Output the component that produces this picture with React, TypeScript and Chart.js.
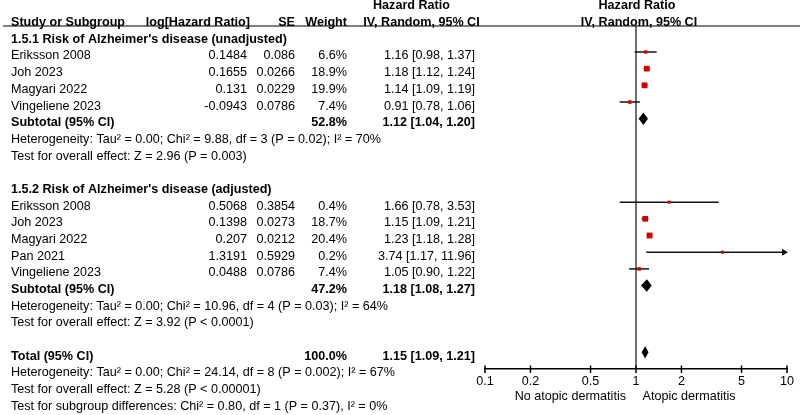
import React, { useEffect, useRef } from 'react';
import { Chart, registerables } from 'chart.js';

Chart.register(...registerables);

const FONT = '"Liberation Sans", Arial, Helvetica, sans-serif';

// ---- Subgroup 1.5.1 : unadjusted ----
const g1Title = "1.5.1 Risk of Alzheimer's disease (unadjusted)";
const g1Studies = ['Eriksson 2008', 'Joh 2023', 'Magyari 2022', 'Vingeliene 2023'];
const g1LogHR = [0.1484, 0.1655, 0.131, -0.0943];
const g1SE = [0.086, 0.0266, 0.0229, 0.0786];
const g1Weight = [6.6, 18.9, 19.9, 7.4];
const g1HR = [1.16, 1.18, 1.14, 0.91];
const g1Low = [0.98, 1.12, 1.09, 0.78];
const g1High = [1.37, 1.24, 1.19, 1.06];
const g1Sub = [1.12, 1.04, 1.2];
const g1SubWeight = 52.8;
const g1Het = 'Heterogeneity: Tau² = 0.00; Chi² = 9.88, df = 3 (P = 0.02); I² = 70%';
const g1Test = 'Test for overall effect: Z = 2.96 (P = 0.003)';

// ---- Subgroup 1.5.2 : adjusted ----
const g2Title = "1.5.2 Risk of Alzheimer's disease (adjusted)";
const g2Studies = ['Eriksson 2008', 'Joh 2023', 'Magyari 2022', 'Pan 2021', 'Vingeliene 2023'];
const g2LogHR = [0.5068, 0.1398, 0.207, 1.3191, 0.0488];
const g2SE = [0.3854, 0.0273, 0.0212, 0.5929, 0.0786];
const g2Weight = [0.4, 18.7, 20.4, 0.2, 7.4];
const g2HR = [1.66, 1.15, 1.23, 3.74, 1.05];
const g2Low = [0.78, 1.09, 1.18, 1.17, 0.9];
const g2High = [3.53, 1.21, 1.28, 11.96, 1.22];
const g2Sub = [1.18, 1.08, 1.27];
const g2SubWeight = 47.2;
const g2Het = 'Heterogeneity: Tau² = 0.00; Chi² = 10.96, df = 4 (P = 0.03); I² = 64%';
const g2Test = 'Test for overall effect: Z = 3.92 (P < 0.0001)';

// ---- Total ----
const totalHR = [1.15, 1.09, 1.21];
const totalWeight = 100.0;
const totalHet = 'Heterogeneity: Tau² = 0.00; Chi² = 24.14, df = 8 (P = 0.002); I² = 67%';
const totalTest = 'Test for overall effect: Z = 5.28 (P < 0.00001)';
const subgroupTest = 'Test for subgroup differences: Chi² = 0.80, df = 1 (P = 0.37), I² = 0%';

// ---- Axis ----
const xTicks = [0.1, 0.2, 0.5, 1, 2, 5, 10];
const favoursLeft = 'No atopic dermatitis';
const favoursRight = 'Atopic dermatitis';

type Cell = { text: string; x: number; align: CanvasTextAlign; bold?: boolean };
type Row = { r: number; cells: Cell[] };
type Study = { r: number; hr: number; lo: number; hi: number; w: number };
type Diamond = { r: number; hr: number; lo: number; hi: number };

const COL_NAME = 11;
const COL_LOG = 247;
const COL_SE = 295;
const COL_W = 347;
const COL_HR = 475;

const fmtCI = (h: number, l: number, u: number) => `${h.toFixed(2)} [${l.toFixed(2)}, ${u.toFixed(2)}]`;

function buildLayout() {
  const rows: Row[] = [];
  const studies: Study[] = [];
  const diamonds: Diamond[] = [];
  rows.push({
    r: -2,
    cells: [{ text: 'Hazard Ratio', x: 411.5, align: 'center', bold: true }],
  });
  rows.push({
    r: -1,
    cells: [
      { text: 'Study or Subgroup', x: COL_NAME, align: 'left', bold: true },
      { text: 'log[Hazard Ratio]', x: 250, align: 'right', bold: true },
      { text: 'SE', x: COL_SE, align: 'right', bold: true },
      { text: 'Weight', x: COL_W, align: 'right', bold: true },
      { text: 'IV, Random, 95% CI', x: 421.5, align: 'center', bold: true },
    ],
  });
  let r = 0;
  const groups = [
    { title: g1Title, s: g1Studies, lg: g1LogHR, se: g1SE, w: g1Weight, hr: g1HR, lo: g1Low, hi: g1High, sub: g1Sub, sw: g1SubWeight, het: g1Het, test: g1Test },
    { title: g2Title, s: g2Studies, lg: g2LogHR, se: g2SE, w: g2Weight, hr: g2HR, lo: g2Low, hi: g2High, sub: g2Sub, sw: g2SubWeight, het: g2Het, test: g2Test },
  ];
  groups.forEach((g) => {
    rows.push({ r, cells: [{ text: g.title, x: COL_NAME, align: 'left', bold: true }] });
    r++;
    g.s.forEach((name, i) => {
      rows.push({
        r,
        cells: [
          { text: name, x: COL_NAME, align: 'left' },
          { text: String(g.lg[i]), x: COL_LOG, align: 'right' },
          { text: String(g.se[i]), x: COL_SE, align: 'right' },
          { text: g.w[i].toFixed(1) + '%', x: COL_W, align: 'right' },
          { text: fmtCI(g.hr[i], g.lo[i], g.hi[i]), x: COL_HR, align: 'right' },
        ],
      });
      studies.push({ r, hr: g.hr[i], lo: g.lo[i], hi: g.hi[i], w: g.w[i] });
      r++;
    });
    rows.push({
      r,
      cells: [
        { text: 'Subtotal (95% CI)', x: COL_NAME, align: 'left', bold: true },
        { text: g.sw.toFixed(1) + '%', x: COL_W, align: 'right', bold: true },
        { text: fmtCI(g.sub[0], g.sub[1], g.sub[2]), x: COL_HR, align: 'right', bold: true },
      ],
    });
    diamonds.push({ r, hr: g.sub[0], lo: g.sub[1], hi: g.sub[2] });
    r++;
    rows.push({ r, cells: [{ text: g.het, x: COL_NAME, align: 'left' }] });
    r++;
    rows.push({ r, cells: [{ text: g.test, x: COL_NAME, align: 'left' }] });
    r++;
    r++; // blank line
  });
  rows.push({
    r,
    cells: [
      { text: 'Total (95% CI)', x: COL_NAME, align: 'left', bold: true },
      { text: totalWeight.toFixed(1) + '%', x: COL_W, align: 'right', bold: true },
      { text: fmtCI(totalHR[0], totalHR[1], totalHR[2]), x: COL_HR, align: 'right', bold: true },
    ],
  });
  diamonds.push({ r, hr: totalHR[0], lo: totalHR[1], hi: totalHR[2] });
  r++;
  rows.push({ r, cells: [{ text: totalHet, x: COL_NAME, align: 'left' }] });
  r++;
  rows.push({ r, cells: [{ text: totalTest, x: COL_NAME, align: 'left' }] });
  r++;
  rows.push({ r, cells: [{ text: subgroupTest, x: COL_NAME, align: 'left' }] });
  return { rows, studies, diamonds };
}

const FONT_SIZE = 12.6;
const TEXT_DY = 4;

export default function App() {
  const ref = useRef<HTMLCanvasElement | null>(null);
  useEffect(() => {
    const canvas = ref.current;
    if (!canvas) return;
    const { rows, studies, diamonds } = buildLayout();

    const forestPlugin = {
      id: 'forest',
      beforeDatasetsDraw(chart: any) {
        const { ctx, chartArea, scales } = chart;
        const xs = scales.x;
        const ys = scales.y;
        ctx.save();
        // line of no effect
        const x1 = xs.getPixelForValue(1);
        ctx.strokeStyle = '#6e6e6e';
        ctx.lineWidth = 2;
        ctx.beginPath();
        ctx.moveTo(x1, chartArea.top);
        ctx.lineTo(x1, chartArea.bottom);
        ctx.stroke();
        // CIs
        ctx.strokeStyle = '#111';
        ctx.fillStyle = '#111';
        ctx.lineWidth = 1.5;
        studies.forEach((s) => {
          const y = ys.getPixelForValue(s.r);
          const xl = xs.getPixelForValue(Math.max(s.lo, 0.1));
          const over = s.hi > 10;
          const xh = xs.getPixelForValue(Math.min(s.hi, 10));
          ctx.beginPath();
          ctx.moveTo(xl, y);
          ctx.lineTo(over ? xh - 3 : xh, y);
          ctx.stroke();
          if (over) {
            ctx.beginPath();
            ctx.moveTo(xh + 1, y);
            ctx.lineTo(xh - 5, y - 3.5);
            ctx.lineTo(xh - 5, y + 3.5);
            ctx.closePath();
            ctx.fill();
          }
        });
        // diamonds
        ctx.fillStyle = '#000';
        diamonds.forEach((d) => {
          const y = ys.getPixelForValue(d.r);
          const xl = xs.getPixelForValue(d.lo);
          const xc = xs.getPixelForValue(d.hr);
          const xh = xs.getPixelForValue(d.hi);
          ctx.beginPath();
          ctx.moveTo(xl, y);
          ctx.lineTo(xc, y - 6.3);
          ctx.lineTo(xh, y);
          ctx.lineTo(xc, y + 6.3);
          ctx.closePath();
          ctx.fill();
        });
        ctx.restore();
      },
      afterDraw(chart: any) {
        const { ctx, chartArea, scales } = chart;
        const xs = scales.x;
        const ys = scales.y;
        ctx.save();
        // axis tick marks crossing the axis
        ctx.strokeStyle = '#000';
        ctx.lineWidth = 1.5;
        xTicks.forEach((v) => {
          const x = xs.getPixelForValue(v);
          ctx.beginPath();
          ctx.moveTo(x, chartArea.bottom - 3.5);
          ctx.lineTo(x, chartArea.bottom + 4);
          ctx.stroke();
        });
        // header rule
        ctx.strokeStyle = '#000';
        ctx.lineWidth = 1.2;
        const ruleY = chartArea.top;
        ctx.beginPath();
        ctx.moveTo(3, ruleY);
        ctx.lineTo(800, ruleY);
        ctx.stroke();
        // table text
        ctx.fillStyle = '#000';
        ctx.textBaseline = 'middle';
        rows.forEach((row) => {
          const y = ys.getPixelForValue(row.r) + TEXT_DY;
          row.cells.forEach((c) => {
            ctx.font = `${c.bold ? 'bold ' : ''}${FONT_SIZE}px ${FONT}`;
            ctx.textAlign = c.align;
            ctx.fillText(c.text, c.x, y);
          });
        });
        // plot headers
        const x1 = xs.getPixelForValue(1);
        ctx.font = `bold ${FONT_SIZE}px ${FONT}`;
        ctx.textAlign = 'center';
        ctx.fillText('Hazard Ratio', x1 + 1, ys.getPixelForValue(-2) + TEXT_DY);
        ctx.fillText('IV, Random, 95% CI', x1 + 3, ys.getPixelForValue(-1) + TEXT_DY);
        // favours labels
        ctx.font = `${FONT_SIZE}px ${FONT}`;
        const fy = chartArea.bottom + 28;
        ctx.textAlign = 'right';
        ctx.fillText(favoursLeft, x1 - 10, fy);
        ctx.textAlign = 'left';
        ctx.fillText(favoursRight, x1 + 6.5, fy);
        ctx.restore();
      },
    };

    const chart = new Chart(canvas, {
      type: 'scatter',
      data: {
        datasets: [
          {
            data: studies.map((s) => ({ x: s.hr, y: s.r })),
            pointStyle: 'rect',
            pointRadius: studies.map((s) => Math.max(3, 1.3 * Math.sqrt(s.w)) / Math.SQRT2),
            pointBackgroundColor: '#d00000',
            pointBorderWidth: 0,
            borderWidth: 0,
            showLine: false,
          },
        ],
      },
      options: {
        responsive: false,
        animation: false,
        events: [],
        layout: { padding: { left: 485, right: 13, top: 26, bottom: 0 } },
        plugins: { legend: { display: false }, tooltip: { enabled: false } },
        scales: {
          x: {
            type: 'logarithmic',
            min: 0.1,
            max: 10,
            position: 'bottom',
            afterBuildTicks: (s: any) => {
              s.ticks = xTicks.map((v) => ({ value: v }));
            },
            afterFit: (s: any) => {
              s.height = 46;
            },
            grid: { display: false, drawOnChartArea: false, drawTicks: false },
            border: { display: true, color: '#000', width: 1.5 },
            ticks: {
              autoSkip: false,
              maxRotation: 0,
              padding: 5,
              color: '#000',
              font: { family: FONT, size: FONT_SIZE },
              callback: (v: any) => String(v),
            },
          },
          y: {
            type: 'linear',
            reverse: true,
            min: -0.557,
            max: 20,
            display: false,
          },
        },
      },
      plugins: [forestPlugin],
    });
    return () => chart.destroy();
  }, []);

  return (
    <div style={{ position: 'fixed', left: 0, top: 0, width: 800, height: 415, background: '#fff' }}>
      <canvas ref={ref} width={800} height={415} style={{ width: 800, height: 415, display: 'block' }} />
    </div>
  );
}
